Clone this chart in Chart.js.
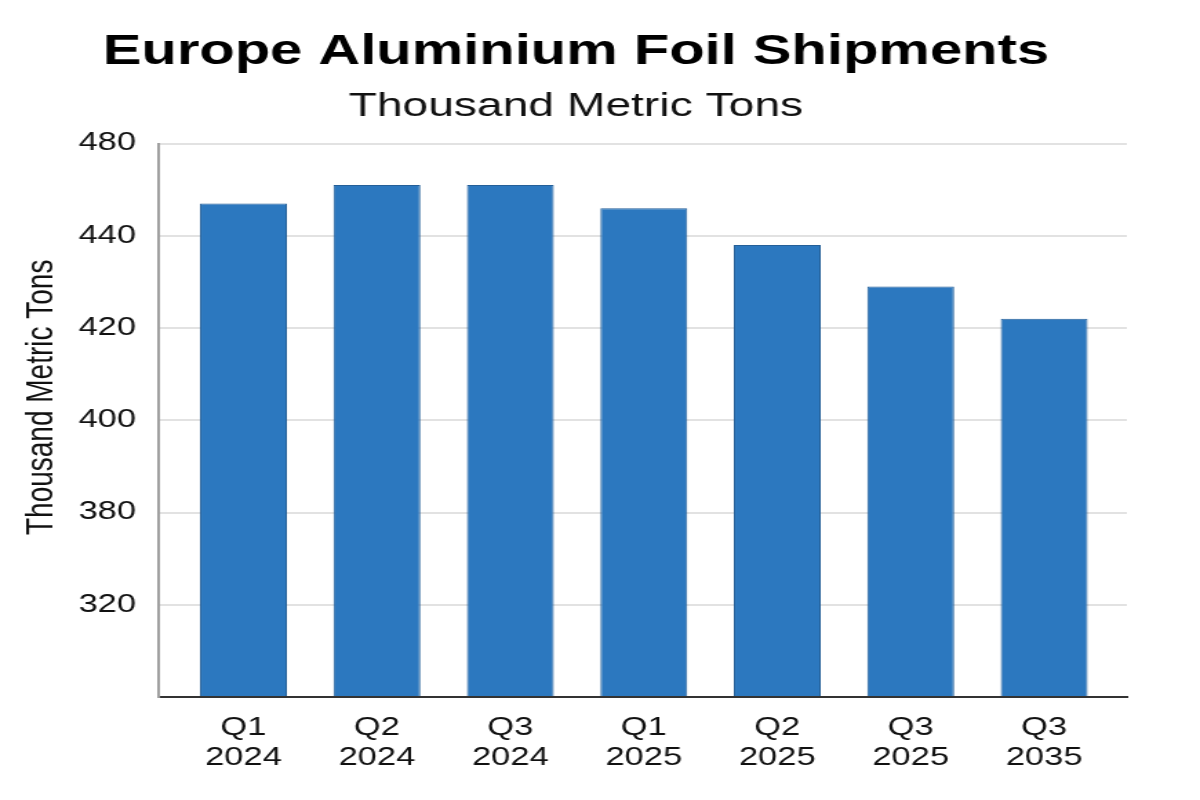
<!DOCTYPE html>
<html>
<head>
<meta charset="utf-8">
<script src="https://cdn.jsdelivr.net/npm/chart.js@4"></script>
<style>
  html, body { margin: 0; padding: 0; background: #fff; overflow: hidden; }
  /* the reference is stretched sideways, so the chart is drawn narrow and widened */
  #wrap { width: 870px; height: 800px; transform: scaleX(1.3793); transform-origin: 0 0; }
</style>
</head>
<body>
<div id="wrap"><canvas id="myChart"></canvas></div>
<script>
/*DATOS*/
const quarters = ["Q1", "Q2", "Q3", "Q1", "Q2", "Q3", "Q3"]
const years = ["2024", "2024", "2024", "2025", "2025", "2025", "2035"]
const shipments = [454, 462, 462, 452, 438, 429, 422]
const yTickLabels = [320, 380, 400, 420, 440, 480]

/*FUNCIONES*/
// the axis labels are evenly spaced but not evenly valued,
// so each value is placed between the two labels around it
function toAxisStep (valor) {
    for (let i = 1; i < yTickLabels.length; i++) {
        const lo = yTickLabels[i - 1]
        const hi = yTickLabels[i]
        if (valor <= hi) {
            return i + (valor - lo) / (hi - lo)
        }
    }
    return yTickLabels.length
}

const points = shipments.map((valor, i) => {
    return { x: i, y: toAxisStep(valor) }
})

const yTitlePlugin = {
    id: "yTitle",
    afterDraw (chart) {
        const { ctx, chartArea } = chart
        ctx.save()
        ctx.translate(chartArea.left - 84, (chartArea.top + chartArea.bottom) / 2 - 23)
        ctx.rotate(-Math.PI / 2)
        ctx.font = "28px 'Liberation Sans', Arial, sans-serif"
        ctx.fillStyle = "#111"
        ctx.textAlign = "center"
        ctx.textBaseline = "middle"
        ctx.fillText("Thousand Metric Tons", 0, 0)
        ctx.restore()
    }
}

const config = {
    type: "bar",
    data: {
        datasets: [
            {
                label: "Shipments",
                data: points,
                backgroundColor: "#2c78bf",
                borderColor: "#245f98",
                borderWidth: 1,
                categoryPercentage: 1,
                barPercentage: 0.651
            }
        ]
    },
    options: {
        responsive: true,
        maintainAspectRatio: false,
        animation: false,
        layout: { padding: { left: 18, right: 53, top: 0, bottom: 11 } },
        plugins: {
            legend: { display: false },
            tooltip: { enabled: false },
            title: {
                display: true,
                text: "Europe Aluminium Foil Shipments",
                color: "#000",
                font: { family: "'Liberation Sans', Arial, sans-serif", size: 42, weight: "bold", lineHeight: 1.2 },
                padding: { top: 27, bottom: 0 }
            },
            subtitle: {
                display: true,
                text: "Thousand Metric Tons",
                color: "#111",
                font: { family: "'Liberation Sans', Arial, sans-serif", size: 33.5, lineHeight: 1.2 },
                padding: { top: 9, bottom: 17 }
            }
        },
        scales: {
            x: {
                type: "linear",
                offset: false,
                min: -0.64,
                max: 6.62,
                grid: { display: false, drawTicks: false },
                border: { display: true, color: "#333", width: 2 },
                ticks: {
                    stepSize: 1,
                    includeBounds: false,
                    autoSkip: false,
                    maxRotation: 0,
                    padding: 16,
                    color: "#111",
                    font: { family: "'Liberation Sans', Arial, sans-serif", size: 25, lineHeight: 1.2 },
                    callback: (v) => Number.isInteger(v) && v >= 0 && v < quarters.length ? [quarters[v], years[v]] : ""
                }
            },
            y: {
                min: 0,
                max: yTickLabels.length,
                afterFit: (scale) => { scale.width = 96.6 },
                grid: { color: "#e2e2e2", lineWidth: 2, drawTicks: false },
                border: { display: true, color: "#a0a0a0", width: 2 },
                ticks: {
                    stepSize: 1,
                    padding: 16,
                    color: "#111",
                    font: { family: "'Liberation Sans', Arial, sans-serif", size: 25 },
                    callback: (v) => v >= 1 ? String(yTickLabels[v - 1]) : ""
                }
            }
        }
    },
    plugins: [yTitlePlugin]
}

/*GRAFICO*/
const myChart = document.querySelector("#myChart")
new Chart(myChart, config)
</script>
</body>
</html>
